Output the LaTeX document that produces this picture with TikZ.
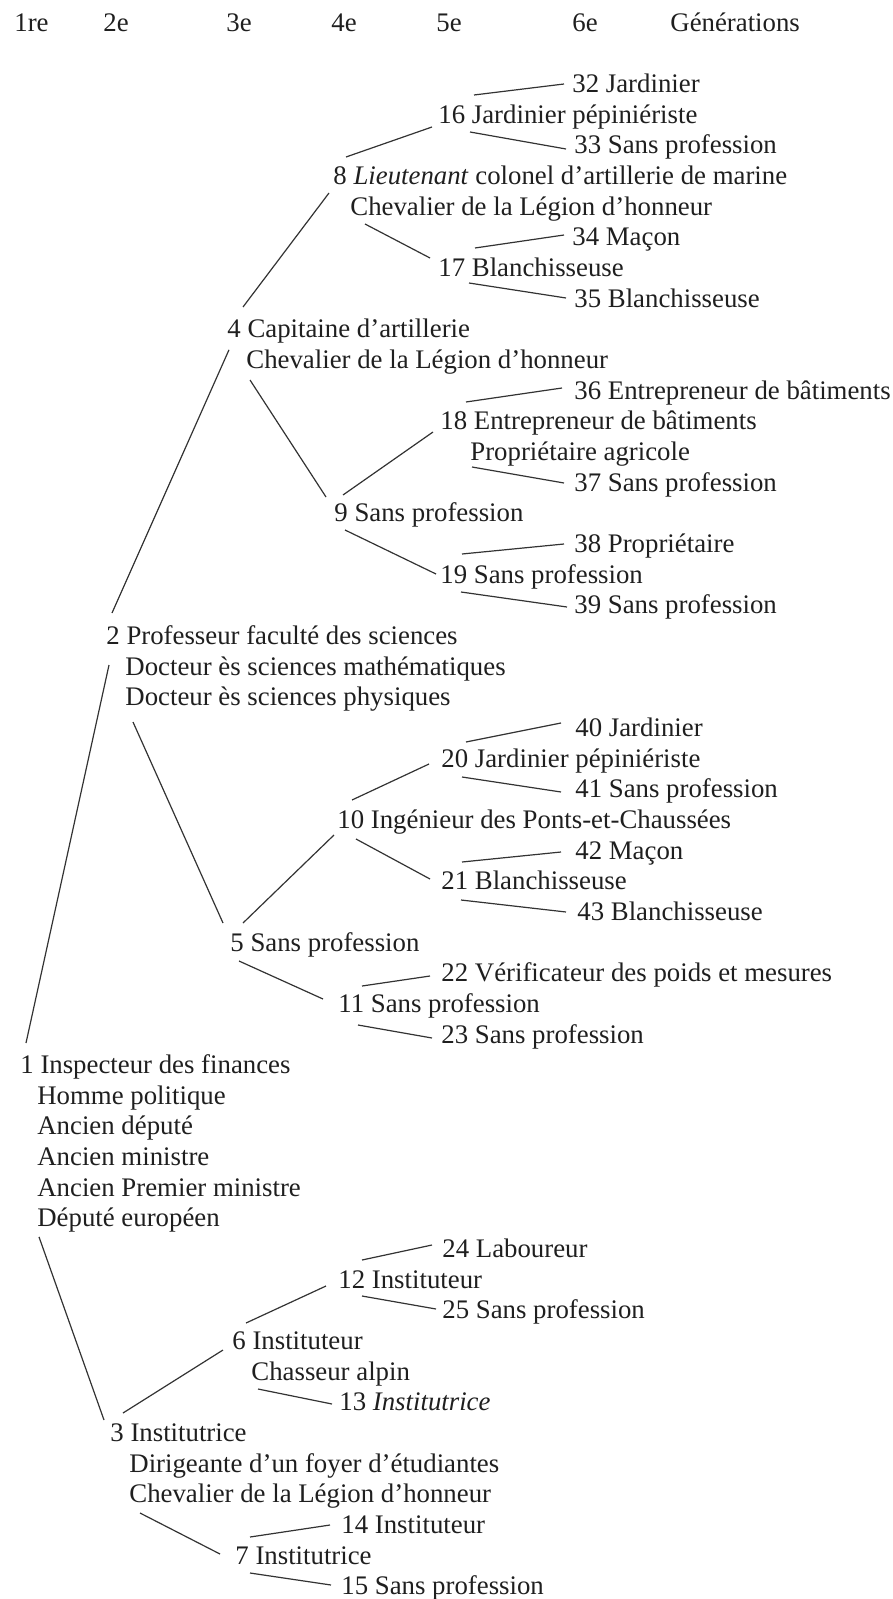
\documentclass[tikz,border=0pt]{standalone}
\usepackage{fontspec}
\setmainfont{Liberation Serif}
\usetikzlibrary{calc}
\begin{document}
\begin{tikzpicture}[x=0.5pt,y=-0.5pt,
  lbl/.style={anchor=base west,inner sep=0pt,font=\fontsize{13.4}{16}\selectfont,text=black!88},
  link/.style={line width=0.6pt,draw=black!80}]
\useasboundingbox (0,0) rectangle (893,1599);
% header
\node[lbl] (h1) at (14,31.5) {1re};
\node[lbl] (h2) at (103,31.5) {2e};
\node[lbl] (h3) at (226,31.5) {3e};
\node[lbl] (h4) at (331,31.5) {4e};
\node[lbl] (h5) at (436,31.5) {5e};
\node[lbl] (h6) at (572,31.5) {6e};
\node[lbl] (hg) at (670,31.5) {Générations};
% rows
\node[lbl] (n32) at (572,92.5) {32 Jardinier};
\node[lbl] (n16) at (438,123.2) {16 Jardinier pépiniériste};
\node[lbl] (n33) at (574,153.8) {33 Sans profession};
\node[lbl] (n8) at (333,184.5) {8 \textit{Lieutenant} colonel d’artillerie de marine};
\node[lbl] (n8b) at (350,215.1) {Chevalier de la Légion d’honneur};
\node[lbl] (n34) at (572,245.8) {34 Maçon};
\node[lbl] (n17) at (438,276.5) {17 Blanchisseuse};
\node[lbl] (n35) at (574,307.1) {35 Blanchisseuse};
\node[lbl] (n4) at (227,337.8) {4 Capitaine d’artillerie};
\node[lbl] (n4b) at (246,368.4) {Chevalier de la Légion d’honneur};
\node[lbl] (n36) at (574,399.1) {36 Entrepreneur de bâtiments};
\node[lbl] (n18) at (440,429.8) {18 Entrepreneur de bâtiments};
\node[lbl] (n18b) at (470,460.4) {Propriétaire agricole};
\node[lbl] (n37) at (574,491.1) {37 Sans profession};
\node[lbl] (n9) at (334,521.7) {9 Sans profession};
\node[lbl] (n38) at (574,552.4) {38 Propriétaire};
\node[lbl] (n19) at (440,583.1) {19 Sans profession};
\node[lbl] (n39) at (574,613.7) {39 Sans profession};
\node[lbl] (n2) at (106,644.4) {2 Professeur faculté des sciences};
\node[lbl] (n2b) at (125,675.0) {Docteur ès sciences mathématiques};
\node[lbl] (n2c) at (125,705.7) {Docteur ès sciences physiques};
\node[lbl] (n40) at (575,736.4) {40 Jardinier};
\node[lbl] (n20) at (441,767.0) {20 Jardinier pépiniériste};
\node[lbl] (n41) at (575,797.7) {41 Sans profession};
\node[lbl] (n10) at (337,828.3) {10 Ingénieur des Ponts-et-Chaussées};
\node[lbl] (n42) at (575,859.0) {42 Maçon};
\node[lbl] (n21) at (441,889.7) {21 Blanchisseuse};
\node[lbl] (n43) at (577,920.3) {43 Blanchisseuse};
\node[lbl] (n5) at (230,951.0) {5 Sans profession};
\node[lbl] (n22) at (441,981.6) {22 Vérificateur des poids et mesures};
\node[lbl] (n11) at (338,1012.3) {11 Sans profession};
\node[lbl] (n23) at (441,1043.0) {23 Sans profession};
\node[lbl] (n1) at (20,1073.6) {1 Inspecteur des finances};
\node[lbl] (n1b) at (37,1104.3) {Homme politique};
\node[lbl] (n1c) at (37,1134.9) {Ancien député};
\node[lbl] (n1d) at (37,1165.6) {Ancien ministre};
\node[lbl] (n1e) at (37,1196.3) {Ancien Premier ministre};
\node[lbl] (n1f) at (37,1226.9) {Député européen};
\node[lbl] (n24) at (442,1257.6) {24 Laboureur};
\node[lbl] (n12) at (338,1288.2) {12 Instituteur};
\node[lbl] (n25) at (442,1318.9) {25 Sans profession};
\node[lbl] (n6) at (232,1349.6) {6 Instituteur};
\node[lbl] (n6b) at (251,1380.2) {Chasseur alpin};
\node[lbl] (n13) at (339,1410.9) {13 \textit{Institutrice}};
\node[lbl] (n3) at (110,1441.5) {3 Institutrice};
\node[lbl] (n3b) at (129,1472.2) {Dirigeante d’un foyer d’étudiantes};
\node[lbl] (n3c) at (129,1502.9) {Chevalier de la Légion d’honneur};
\node[lbl] (n14) at (341,1533.5) {14 Instituteur};
\node[lbl] (n7) at (235,1564.2) {7 Institutrice};
\node[lbl] (n15) at (341,1594.8) {15 Sans profession};
% connectors
\draw[link] ($(n16.base west)+(36,-28.2)$) -- ($(n32.base west)+(-8,-8.5)$);
\draw[link] ($(n16.base west)+(32,8.8)$) -- ($(n33.base west)+(-8,-4.8)$);
\draw[link] ($(n8.base west)+(13,-27.5)$) -- ($(n16.base west)+(-6,3.8)$);
\draw[link] ($(n8b.base west)+(15,8.9)$) -- ($(n17.base west)+(-8,-18.5)$);
\draw[link] ($(n17.base west)+(37,-28.5)$) -- ($(n34.base west)+(-8,-10.8)$);
\draw[link] ($(n17.base west)+(31,6.5)$) -- ($(n35.base west)+(-8,-9.1)$);
\draw[link] ($(n4.base west)+(16,-30.8)$) -- ($(n8.base west)+(-4,8.5)$);
\draw[link] ($(n4b.base west)+(4,11.6)$) -- ($(n9.base west)+(-8,-24.7)$);
\draw[link] ($(n9.base west)+(9,-26.7)$) -- ($(n18.base west)+(-7,2.2)$);
\draw[link] ($(n18.base west)+(26,-27.8)$) -- ($(n36.base west)+(-12,-11.1)$);
\draw[link] ($(n18b.base west)+(2,6.6)$) -- ($(n37.base west)+(-10,-8.1)$);
\draw[link] ($(n9.base west)+(11,8.3)$) -- ($(n19.base west)+(-4,-9.1)$);
\draw[link] ($(n19.base west)+(22,-29.1)$) -- ($(n38.base west)+(-10,-8.4)$);
\draw[link] ($(n19.base west)+(21,8.9)$) -- ($(n39.base west)+(-7,-6.7)$);
\draw[link] ($(n2.base west)+(6,-31.4)$) -- ($(n4.base west)+(2,12)$);
\draw[link] ($(n2c.base west)+(8,16.3)$) -- ($(n5.base west)+(-7,-28)$);
\draw[link] ($(n5.base west)+(13,-28)$) -- ($(n10.base west)+(-3,6.7)$);
\draw[link] ($(n10.base west)+(15,-28.3)$) -- ($(n20.base west)+(-12,-3)$);
\draw[link] ($(n20.base west)+(25,-25)$) -- ($(n40.base west)+(-14,-13.4)$);
\draw[link] ($(n20.base west)+(21,10)$) -- ($(n41.base west)+(-14,-5.7)$);
\draw[link] ($(n10.base west)+(19,10.7)$) -- ($(n21.base west)+(-11,-10.7)$);
\draw[link] ($(n21.base west)+(21,-27.7)$) -- ($(n42.base west)+(-14,-7)$);
\draw[link] ($(n21.base west)+(20,10.3)$) -- ($(n43.base west)+(-11,-8.3)$);
\draw[link] ($(n5.base west)+(9,10)$) -- ($(n11.base west)+(-15,-13.3)$);
\draw[link] ($(n11.base west)+(24,-26.3)$) -- ($(n22.base west)+(-11,-5.6)$);
\draw[link] ($(n11.base west)+(20,12.7)$) -- ($(n23.base west)+(-9,-5)$);
\draw[link] ($(n1.base west)+(6,-30.6)$) -- ($(n2.base west)+(3,20.6)$);
\draw[link] ($(n1f.base west)+(2,10)$) -- ($(n3.base west)+(-6,-21.5)$);
\draw[link] ($(n3.base west)+(13,-28.5)$) -- ($(n6.base west)+(-9,0.4)$);
\draw[link] ($(n6.base west)+(14,-26.6)$) -- ($(n12.base west)+(-12,-2.2)$);
\draw[link] ($(n12.base west)+(24,-28.2)$) -- ($(n24.base west)+(-10,-12.6)$);
\draw[link] ($(n12.base west)+(24,7.8)$) -- ($(n25.base west)+(-6,-9.9)$);
\draw[link] ($(n6b.base west)+(7,8.8)$) -- ($(n13.base west)+(-7,-6.9)$);
\draw[link] ($(n3c.base west)+(11,10.1)$) -- ($(n7.base west)+(-15,-10.2)$);
\draw[link] ($(n7.base west)+(15,-27.2)$) -- ($(n14.base west)+(-11,-8.5)$);
\draw[link] ($(n7.base west)+(15,8.8)$) -- ($(n15.base west)+(-10,-9.8)$);
\end{tikzpicture}
\end{document}
